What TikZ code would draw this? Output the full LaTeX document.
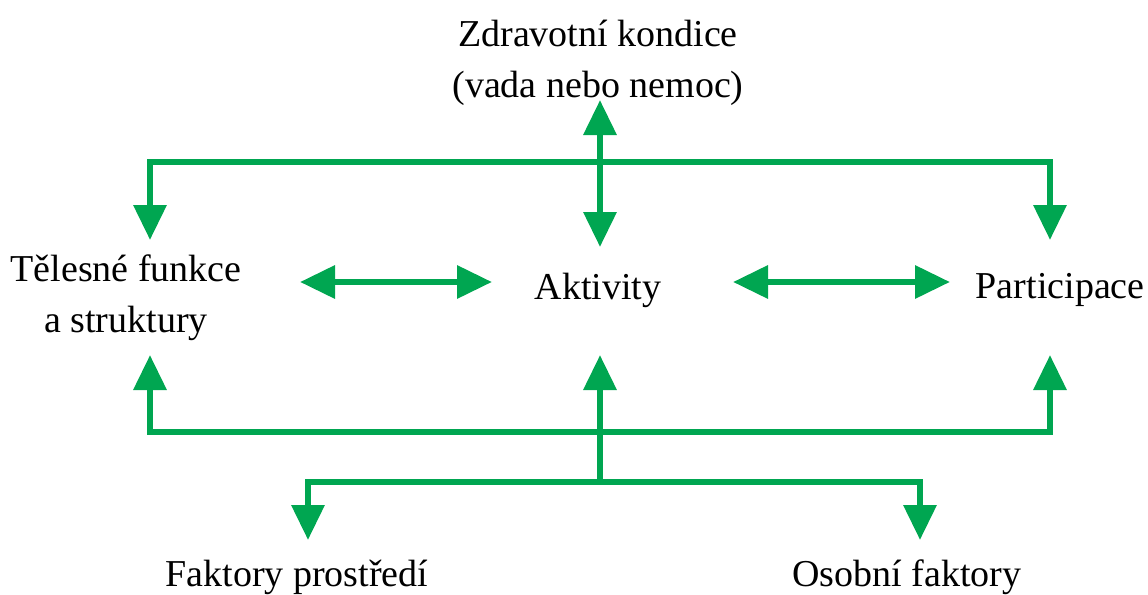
\documentclass[tikz,border=0pt]{standalone}
\usepackage{fontspec}
\setmainfont{Liberation Serif}
\usetikzlibrary{arrows.meta, positioning}
\definecolor{icfgreen}{RGB}{0,166,81}
\tikzset{
  lbl/.style  ={align=center, inner sep=0pt, font=\fontsize{19}{25.5}\selectfont},
  link/.style ={draw=icfgreen, line width=3.2pt, line join=miter},
  arr/.style  ={link, -{Triangle[length=17.5pt, width=16pt]}},
  darr/.style ={link, {Triangle[length=17.5pt, width=16pt]}-{Triangle[length=17.5pt, width=16pt]}},
}

\begin{document}
\begin{tikzpicture}[x=0.5pt, y=-0.5pt]
  \useasboundingbox (0,0) rectangle (1148,595);

  \node[lbl]              (zdrav) at (598,63)  {Zdravotní kondice\\(vada nebo nemoc)};
  \node[lbl]              (telo)  at (126,298) {Tělesné funkce\\a struktury};
  \node[lbl]              (akt)   at (598,290) {Aktivity};
  \node[lbl, anchor=east] (part)  at (1145,290) {Participace};
  \node[lbl]              (fakt)  at (297,577) {Faktory prostředí};
  \node[lbl]              (osob)  at (907,577) {Osobní faktory};

  % arrow ends
  \coordinate (zdravtip) at (600,100);
  \coordinate (akttop)   at (600,247);
  \coordinate (aktbot)   at (600,355);
  \coordinate (aktleft)  at (492,282);
  \coordinate (aktright) at (733,282);
  \coordinate (teloright) at (300,282);
  \coordinate (teltop)   at (150,240);
  \coordinate (telbot)   at (150,355);
  \coordinate (partleft) at (950,282);
  \coordinate (parttop)  at (1050,240);
  \coordinate (partbot)  at (1050,355);
  \coordinate (faktin)   at (308,540);
  \coordinate (osobin)   at (920,540);
  \coordinate (topbar)   at (600,162);
  \coordinate (botbar)   at (600,432);
  \coordinate (split)    at (600,482);

  \draw[darr] (zdravtip) -- (akttop);
  \draw[arr]  (topbar) -| (teltop);
  \draw[arr]  (topbar) -| (parttop);

  \draw[darr] (teloright) -- (aktleft);
  \draw[darr] (aktright)  -- (partleft);

  \draw[arr]  (botbar) -| (telbot);
  \draw[arr]  (botbar) -| (partbot);
  \draw[arr]  (botbar) -- (aktbot);
  \draw[link] (botbar) -- (split);
  \draw[arr]  (split) -| (faktin);
  \draw[arr]  (split) -| (osobin);
\end{tikzpicture}
\end{document}
